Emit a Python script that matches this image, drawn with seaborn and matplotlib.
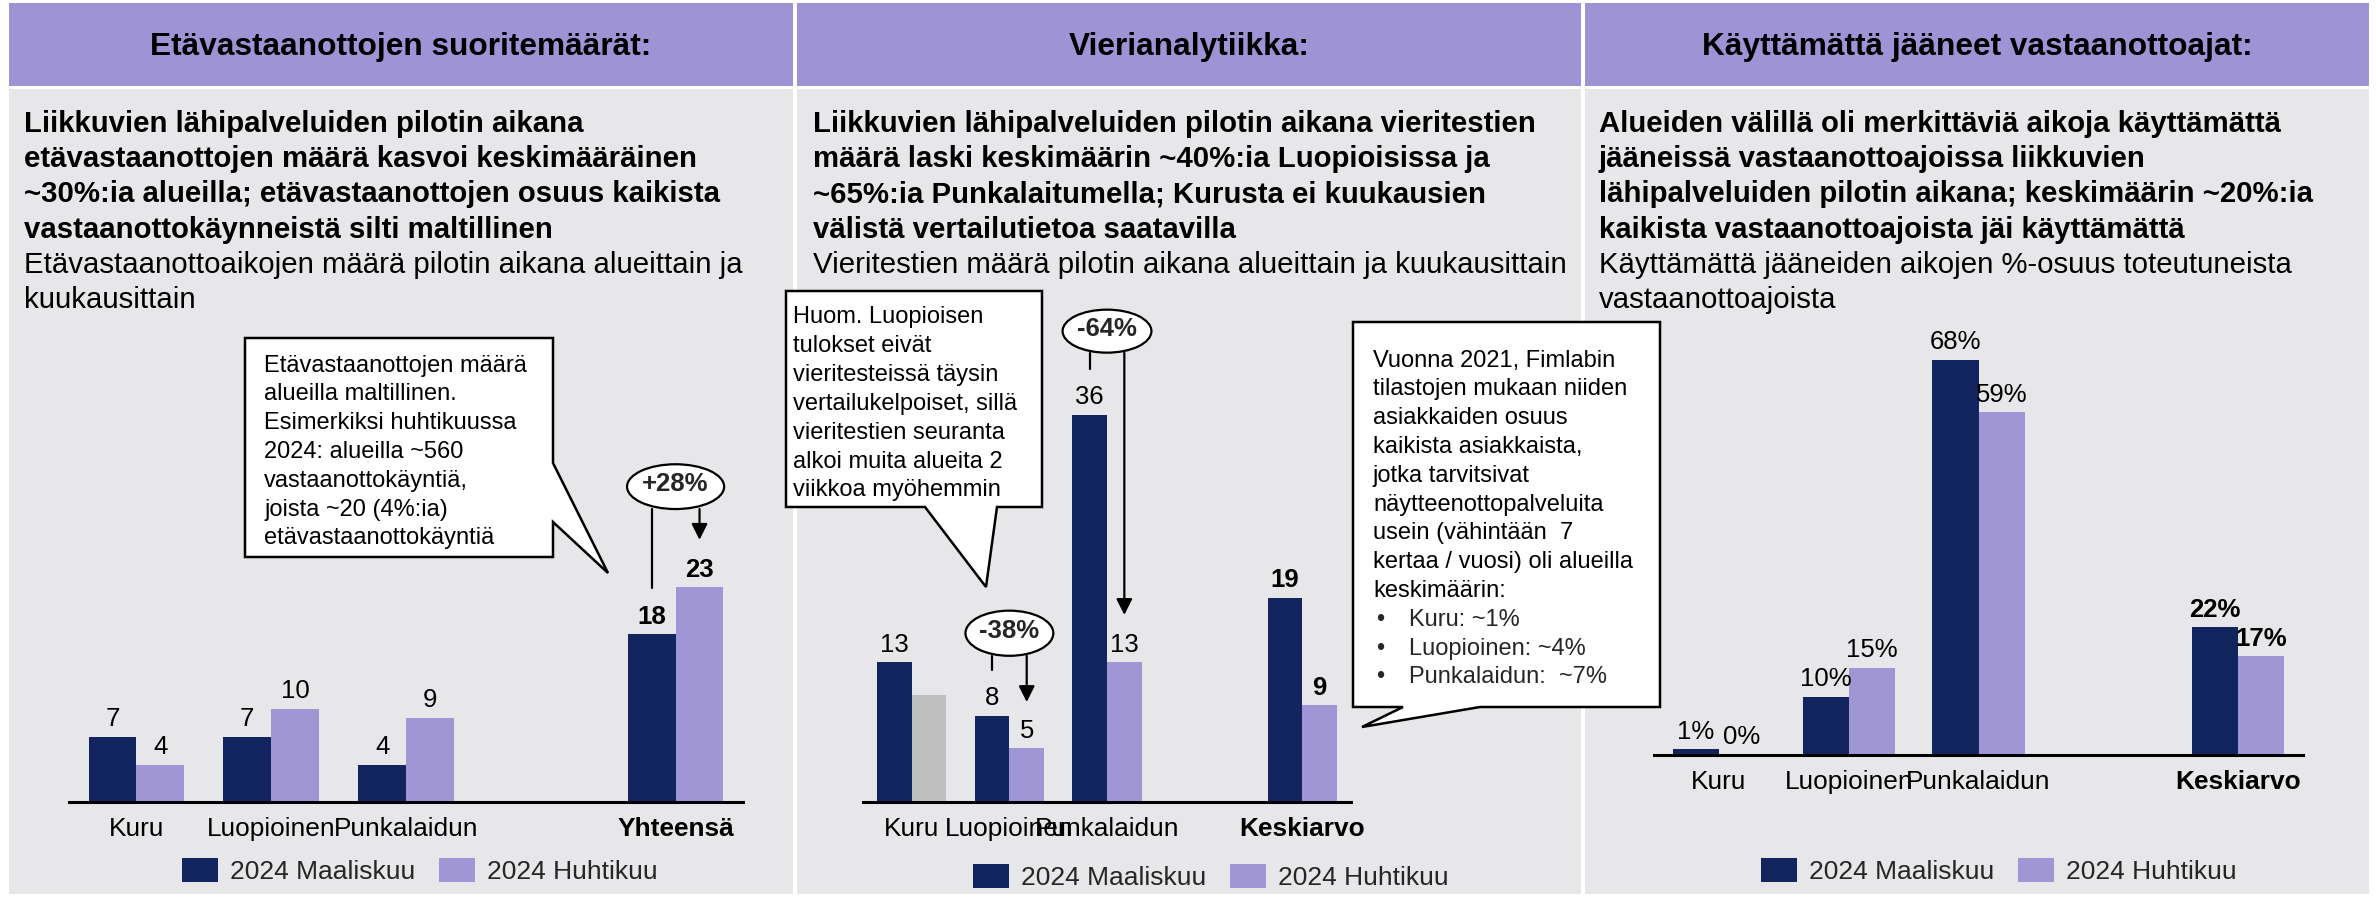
import numpy as np
import pandas as pd
import matplotlib
matplotlib.use("Agg")
import matplotlib.pyplot as plt
from matplotlib.patches import Rectangle, Polygon, Ellipse
import seaborn as sns

# ------------------------------------------------------------------ data
months = ["2024 Maaliskuu", "2024 Huhtikuu"]

p1_categories = ["Kuru", "Luopioinen", "Punkalaidun", "Yhteensä"]
p1_maaliskuu = [7, 7, 4, 18]
p1_huhtikuu = [4, 10, 9, 23]

p2_categories = ["Kuru", "Luopioinen", "Punkalaidun", "Keskiarvo"]
p2_maaliskuu = [13, 8, 36, 19]
p2_huhtikuu = [10, 5, 13, 9]
p2_huhtikuu_comparable = [False, True, True, True]

p3_categories = ["Kuru", "Luopioinen", "Punkalaidun", "Keskiarvo"]
p3_maaliskuu = [1, 10, 68, 22]
p3_huhtikuu = [0, 15, 59, 17]

headers = ["Etävastaanottojen suoritemäärät:", "Vierianalytiikka:",
           "Käyttämättä jääneet vastaanottoajat:"]
headlines = [
    ["Liikkuvien lähipalveluiden pilotin aikana",
     "etävastaanottojen määrä kasvoi keskimääräinen",
     "~30%:ia alueilla; etävastaanottojen osuus kaikista",
     "vastaanottokäynneistä silti maltillinen"],
    ["Liikkuvien lähipalveluiden pilotin aikana vieritestien",
     "määrä laski keskimäärin ~40%:ia Luopioisissa ja",
     "~65%:ia Punkalaitumella; Kurusta ei kuukausien",
     "välistä vertailutietoa saatavilla"],
    ["Alueiden välillä oli merkittäviä aikoja käyttämättä",
     "jääneissä vastaanottoajoissa liikkuvien",
     "lähipalveluiden pilotin aikana; keskimäärin ~20%:ia",
     "kaikista vastaanottoajoista jäi käyttämättä"],
]
subtitles = [
    ["Etävastaanottoaikojen määrä pilotin aikana alueittain ja", "kuukausittain"],
    ["Vieritestien määrä pilotin aikana alueittain ja kuukausittain"],
    ["Käyttämättä jääneiden aikojen %-osuus toteutuneista", "vastaanottoajoista"],
]
note1 = ["Etävastaanottojen määrä", "alueilla maltillinen.", "Esimerkiksi huhtikuussa",
         "2024: alueilla ~560", "vastaanottokäyntiä,", "joista ~20 (4%:ia)",
         "etävastaanottokäyntiä"]
note2 = ["Huom. Luopioisen", "tulokset eivät", "vieritesteissä täysin",
         "vertailukelpoiset, sillä", "vieritestien seuranta", "alkoi muita alueita 2",
         "viikkoa myöhemmin"]
note3 = ["Vuonna 2021, Fimlabin", "tilastojen mukaan niiden", "asiakkaiden osuus",
         "kaikista asiakkaista,", "jotka tarvitsivat", "näytteenottopalveluita",
         "usein (vähintään  7", "kertaa / vuosi) oli alueilla", "keskimäärin:"]
note3_bullets = ["Kuru: ~1%", "Luopioinen: ~4%", "Punkalaidun:  ~7%"]

# ------------------------------------------------------------------ style
DARK = "#13255E"
LIGHT = "#A096D6"
HEAD = "#9E93D5"
BODY = "#E7E7EA"
GREY = "#BFBFBF"

sns.set_theme(style="white")
plt.rcParams["font.family"] = ["Liberation Sans", "DejaVu Sans"]

W, H = 2376, 897
fig = plt.figure(figsize=(W / 100, H / 100), dpi=100)
fig.patch.set_facecolor("white")


def fx(x):
    return x / W


def fy(y):
    return 1 - y / H


def frect(x0, y0, x1, y1, **kw):
    fig.add_artist(Rectangle((fx(x0), fy(y1)), (x1 - x0) / W, (y1 - y0) / H,
                             transform=fig.transFigure, **kw))


panels = [(9, 793), (797, 1581), (1585, 2369)]
text_left = [24, 813, 1599]
for i, (a, b) in enumerate(panels):
    frect(a, 3, b, 86, facecolor=HEAD, edgecolor="none", zorder=-3)
    frect(a, 89, b, 894, facecolor=BODY, edgecolor="none", zorder=-3)
    fig.text(fx((a + b) / 2), fy(55), headers[i], ha="center", va="baseline",
             fontsize=22.8, fontweight="bold", color="black")
    lines = [(t, "bold") for t in headlines[i]] + [(t, "normal") for t in subtitles[i]]
    for k, (t, w) in enumerate(lines):
        fig.text(fx(text_left[i]), fy(132 + 35.2 * k), t, ha="left", va="baseline",
                 fontsize=21.2, fontweight=w, color="black")


def callout(pts, lines, x_text, y_first, bullets=None, bullet_x=None, bullet_tx=None):
    poly = Polygon([(fx(x), fy(y)) for x, y in pts], closed=True, transform=fig.transFigure,
                   facecolor="white", edgecolor="black", linewidth=1.8, zorder=3)
    fig.add_artist(poly)
    k = 0
    for t in lines:
        fig.text(fx(x_text), fy(y_first + 28.8 * k), t, ha="left", va="baseline",
                 fontsize=17, color="black", zorder=4)
        k += 1
    if bullets:
        for t in bullets:
            yy = fy(y_first + 28.8 * k)
            fig.text(fx(bullet_x), yy, "•", ha="left", va="baseline", fontsize=17, zorder=4)
            fig.text(fx(bullet_tx), yy, t, ha="left", va="baseline", fontsize=17, zorder=4)
            k += 1


def draw_panel(x0, ytop, x1, ybase, cats, v1, v2, ymax, fmt, legend_xy, width=0.71):
    ax = fig.add_axes([fx(x0), fy(ybase), (x1 - x0) / W, (ybase - ytop) / H])
    df = pd.DataFrame({"alue": cats * 2, "arvo": v1 + v2,
                       "kuukausi": [months[0]] * len(cats) + [months[1]] * len(cats)})
    order = cats[:3] + [" "] + cats[3:]
    sns.barplot(data=df, x="alue", y="arvo", hue="kuukausi", order=order,
                hue_order=months, palette=[DARK, LIGHT], saturation=1, width=width,
                gap=0, errorbar=None, linewidth=0, ax=ax)
    ax.set_facecolor("none")
    ax.set_xlim(-0.5, 4.5)
    ax.set_ylim(0, ymax)
    ax.set_yticks([])
    ax.set_xlabel("")
    ax.set_ylabel("")
    for s in ["top", "right", "left"]:
        ax.spines[s].set_visible(False)
    ax.spines["bottom"].set_color("black")
    ax.spines["bottom"].set_linewidth(2.2)
    ax.tick_params(axis="x", length=0, pad=11, labelsize=18.9, colors="black")
    ax.get_xticklabels()[-1].set_fontweight("bold")
    sns.move_legend(ax, "center", bbox_to_anchor=(fx(legend_xy[0]), fy(legend_xy[1])),
                    bbox_transform=fig.transFigure, ncol=2, frameon=False, title=None,
                    fontsize=19, handlelength=1.36, handleheight=1.06,
                    handletextpad=0.45, columnspacing=0.9)
    for cont, vals in zip(ax.containers, [v1, v2]):
        txts = ax.bar_label(cont, labels=[fmt(v) for v in vals], padding=4,
                            fontsize=18.5, color="black")
        txts[-1].set_fontweight("bold")
    return ax


def bubble(ax, xc, dx, y_ell, w, h, y_left_end, y_arrow_end, text):
    ax.add_patch(Ellipse((xc, y_ell), w, h, facecolor="white", edgecolor="black",
                         lw=1.6, clip_on=False, zorder=6))
    ax.text(xc, y_ell + h * 0.06, text, ha="center", va="center", fontsize=18.5,
            fontweight="bold", zorder=7, clip_on=False)
    ax.plot([xc - dx, xc - dx], [y_ell - h / 2, y_left_end], color="black", lw=1.6,
            clip_on=False, zorder=5)
    ax.annotate("", xy=(xc + dx, y_arrow_end), xytext=(xc + dx, y_ell - h / 2),
                arrowprops=dict(arrowstyle="-|>", color="black", lw=1.6, shrinkA=0,
                                shrinkB=0, mutation_scale=24),
                annotation_clip=False, zorder=5)


num = lambda v: f"{v:g}"
pct = lambda v: f"{v:g}%"

# panel 1
ax1 = draw_panel(69, 400, 743, 802, p1_categories, p1_maaliskuu, p1_huhtikuu,
                 402 / 9.33, num, (420, 871))
bubble(ax1, 4, 0.71 / 4, 33.8, 0.72, 4.8, 22.9, 28.1, "+28%")

# panel 2
ax2 = draw_panel(863, 300, 1351, 802, p2_categories, p2_maaliskuu, p2_huhtikuu,
                 502 / 10.75, num, (1211, 877))
grey_bar = ax2.containers[1][0]
grey_bar.set_facecolor(GREY)
for t, ok in zip(ax2.texts[-4:], p2_huhtikuu_comparable):
    if not ok:
        t.set_text("")
bubble(ax2, 1, 0.71 / 4, 15.7, 0.9, 4.2, 12.3, 9.3, "-38%")
bubble(ax2, 2, 0.71 / 4, 43.8, 0.91, 4.0, 40.3, 17.4, "-64%")

# panel 3
ax3 = draw_panel(1654, 340, 2303, 755, p3_categories, p3_maaliskuu, p3_huhtikuu,
                 415 / 5.81, pct, (1999, 871))

# callouts
callout([(245, 338), (553, 338), (553, 463), (608, 573), (553, 522), (553, 557), (245, 557)],
        note1, 264, 371.5)
callout([(786, 291), (1042, 291), (1042, 507), (997, 507), (986, 587), (925, 507), (786, 507)],
        note2, 793, 323.5)
callout([(1353, 322), (1660, 322), (1660, 707), (1480, 707), (1362, 727), (1403, 707), (1353, 707)],
        note3, 1373, 366.5, bullets=note3_bullets, bullet_x=1376, bullet_tx=1409)

fig.savefig("out.png", dpi=100, facecolor="white")
